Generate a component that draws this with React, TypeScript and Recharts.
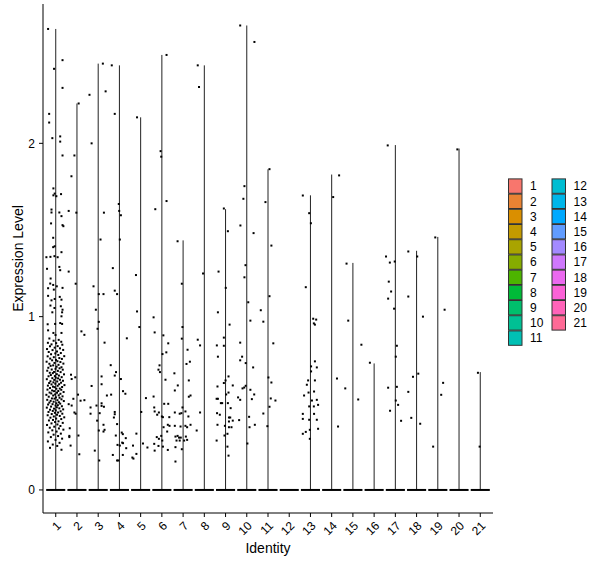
import React from "react";
import { ComposedChart, XAxis, YAxis, Scatter, ReferenceLine } from "recharts";

const clusters = ["1", "2", "3", "4", "5", "6", "7", "8", "9", "10", "11", "12", "13", "14", "15", "16", "17", "18", "19", "20", "21"];

const clusterColors = [
  "#F8766D", "#EA8333", "#DA8F00", "#C39A00", "#A9A400", "#86AC00", "#4DB400",
  "#00BA38", "#00BE6C", "#00C094", "#00C0B4", "#00BDD2", "#00B6EA", "#00A9FF",
  "#619CFF", "#A38AFF", "#CF78FD", "#EB69EF", "#FB62D7", "#FF63B9", "#FF6A96",
];

// top of each violin (max expression per cluster)
const violinMax = [2.66, 2.23, 2.46, 2.45, 2.15, 2.51, 1.44, 2.45, 1.62, 2.68, 1.85, 0, 1.7, 1.82, 1.31, 0.73, 1.99, 1.38, 1.46, 1.97, 0.68];

const yTicks = [0, 1, 2];

// non-zero cells: [jitter (in cluster widths), expression]
const cells1: [number, number][] = [
  [-0.36, 2.66], [0.32, 2.48], [-0.08, 2.43], [0.32, 2.32], [-0.31, 2.17], [-0.31, 2.12], [-0.16, 2.03], [0.21, 2.04], [0.21, 2.01], [0.32, 1.93],
  [-0.11, 1.74], [-0.11, 1.70], [-0.05, 1.71], [0.03, 1.695], [0.25, 1.707], [-0.2, 1.618], [-0.2, 1.601], [0.17, 1.601], [0.27, 1.58],
  [-0.22, 1.538], [0.32, 1.528], [0.36, 1.522], [-0.12, 1.455], [-0.12, 1.401], [-0.05, 1.406], [0.27, 1.372], [-0.44, 1.343], [-0.25, 1.345],
  [-0.06, 1.349], [0.09, 1.343], [-0.41, 1.276], [0.17, 1.287], [0.21, 1.268], [-0.24, 1.22], [-0.26, 1.191], [-0.12, 1.183], [-0.09, 1.156],
  [-0.36, 1.164], [0.05, 1.175], [0.32, 1.166], [-0.36, 1.12], [-0.2, 1.094], [-0.05, 1.102], [0.19, 1.114], [0.27, 1.098], [-0.25, 1.064],
  [-0.06, 1.05], [0.24, 1.06], [0.32, 1.04], [-0.16, 1.025], [0.3, 1.025], [0.27, 1.002], [-0.38, 0.956], [-0.03, 0.958], [0.21, 0.963],
  [0.3, 0.958], [-0.36, 0.921], [-0.11, 0.906], [-0.01, 0.894], [0.27, 0.906],
  [-0.3, 0.874], [0.14, 0.866], [-0.1, 0.861], [0.26, 0.855], [-0.37, 0.849], [0.02, 0.847], [-0.2, 0.84],
  [0.31, 0.838], [0.09, 0.83], [-0.27, 0.829], [-0.05, 0.821], [0.2, 0.817], [-0.41, 0.813], [0.35, 0.808], [-0.15, 0.807], [0.06, 0.799],
  [-0.33, 0.796], [0.24, 0.79], [-0.02, 0.788], [-0.22, 0.783], [0.12, 0.779], [0.4, 0.772], [-0.38, 0.771], [-0.09, 0.766], [0.17, 0.761],
  [-0.26, 0.758], [0.29, 0.756], [0.01, 0.75], [-0.17, 0.748], [0.08, 0.743], [-0.43, 0.74], [0.22, 0.738], [-0.06, 0.733], [0.36, 0.729],
  [-0.3, 0.728], [0.13, 0.722], [-0.12, 0.719], [-0.24, 0.716], [0.04, 0.711], [0.27, 0.708], [-0.35, 0.705], [0.18, 0.702],
  [-0.01, 0.699], [-0.19, 0.695], [0.33, 0.694], [-0.4, 0.688], [0.1, 0.687], [-0.08, 0.681], [0.23, 0.68], [-0.28, 0.676], [-0.14, 0.674],
  [0.05, 0.668], [0.39, 0.667], [-0.23, 0.663], [0.15, 0.66], [-0.04, 0.657], [-0.34, 0.656], [0.28, 0.651], [0.0, 0.648], [-0.16, 0.645],
  [0.11, 0.644], [-0.42, 0.639], [0.2, 0.636], [-0.07, 0.635], [0.34, 0.63], [-0.25, 0.627], [0.07, 0.626], [-0.11, 0.621], [0.25, 0.619],
  [-0.31, 0.617], [-0.02, 0.613], [0.16, 0.61], [-0.2, 0.609], [0.41, 0.605], [-0.37, 0.602], [0.09, 0.601], [-0.13, 0.596], [0.3, 0.594],
  [-0.05, 0.593], [-0.27, 0.588], [0.19, 0.585], [0.03, 0.584], [-0.39, 0.579], [0.26, 0.578], [-0.17, 0.574], [0.12, 0.571], [-0.08, 0.57],
  [0.37, 0.565], [-0.29, 0.562], [0.06, 0.561], [-0.21, 0.557], [0.22, 0.555], [-0.03, 0.551], [-0.44, 0.549], [0.14, 0.546], [-0.12, 0.545],
  [0.32, 0.54], [-0.33, 0.538], [0.01, 0.534], [0.18, 0.532], [-0.18, 0.528], [-0.06, 0.527], [0.27, 0.523], [-0.4, 0.52], [0.08, 0.518],
  [-0.24, 0.514], [0.38, 0.513], [-0.1, 0.509], [0.15, 0.506], [-0.3, 0.504], [0.03, 0.5], [0.21, 0.498], [-0.15, 0.495], [-0.36, 0.493],
  [0.1, 0.489], [-0.01, 0.487], [0.29, 0.483], [-0.22, 0.481], [0.05, 0.477], [-0.42, 0.475], [0.17, 0.471], [-0.08, 0.469], [0.35, 0.465],
  [-0.27, 0.463], [0.0, 0.459], [-0.14, 0.456], [0.23, 0.454], [-0.34, 0.45], [0.11, 0.447], [-0.04, 0.445], [0.31, 0.44], [-0.19, 0.438],
  [0.06, 0.434], [-0.38, 0.431], [0.19, 0.427], [-0.09, 0.424], [0.4, 0.419], [-0.25, 0.417], [0.02, 0.412], [0.26, 0.409], [-0.13, 0.404],
  [-0.32, 0.401], [0.13, 0.396], [-0.03, 0.392], [0.33, 0.387], [-0.2, 0.384], [0.08, 0.378], [-0.41, 0.375], [0.22, 0.369], [-0.07, 0.365],
  [-0.28, 0.359], [0.15, 0.355], [0.36, 0.348], [-0.16, 0.344], [0.04, 0.337], [-0.35, 0.332], [0.24, 0.325], [-0.1, 0.319], [0.11, 0.311],
  [-0.23, 0.305], [0.3, 0.296], [-0.01, 0.289], [-0.37, 0.28], [0.18, 0.272], [-0.14, 0.262], [0.07, 0.254], [-0.27, 0.243], [0.27, 0.232],
];
const cells2: [number, number][] = [
  [0.08, 2.23], [-0.12, 1.93], [-0.26, 1.81], [-0.39, 1.61], [-0.03, 1.6], [-0.39, 1.26], [-0.06, 1.19], [0.21, 0.915], [0.35, 0.895],
  [-0.08, 0.65], [-0.28, 0.665], [-0.25, 0.64], [0.05, 0.55], [-0.17, 0.526], [0.17, 0.515], [0.35, 0.518], [-0.39, 0.495], [-0.25, 0.487],
  [-0.12, 0.447], [-0.06, 0.44], [-0.34, 0.356], [-0.36, 0.312], [-0.36, 0.305], [0.07, 0.314], [-0.3, 0.256], [0.11, 0.206],
];
const cells3: [number, number][] = [
  [0.22, 2.46], [0.35, 2.3], [-0.41, 2.28], [-0.31, 2.0], [0.27, 1.6], [0.11, 1.445], [-0.22, 1.175], [0.03, 1.13], [0.25, 1.13], [-0.11, 1.04],
  [0.03, 0.97], [-0.03, 0.93], [0.3, 0.85], [0.16, 0.655], [0.16, 0.61], [-0.31, 0.6], [0.41, 0.545], [-0.08, 0.487], [0.16, 0.5], [0.16, 0.485],
  [0.27, 0.48], [-0.36, 0.476], [-0.36, 0.44], [0.07, 0.443], [-0.05, 0.4], [0.25, 0.376], [0.3, 0.347], [0.25, 0.337], [0.03, 0.343],
  [-0.16, 0.227], [0.05, 0.17],
];
const cells4: [number, number][] = [
  [-0.36, 2.45], [-0.22, 2.17], [-0.03, 1.65], [-0.01, 1.61], [0.07, 1.585], [0.02, 1.445], [-0.31, 1.28], [-0.22, 1.15], [-0.11, 1.13],
  [0.35, 0.875], [-0.41, 0.72], [-0.16, 0.68], [-0.22, 0.66], [0.07, 0.64], [0.17, 0.57], [0.28, 0.555], [-0.39, 0.55], [-0.22, 0.45],
  [-0.22, 0.437], [-0.26, 0.418], [-0.11, 0.38], [-0.17, 0.314], [0.11, 0.331], [0.16, 0.322], [0.3, 0.299], [-0.09, 0.26], [0.02, 0.256],
  [0.13, 0.273], [0.17, 0.27], [0.32, 0.241], [0.16, 0.202], [-0.31, 0.202], [-0.11, 0.17], [-0.05, 0.17],
];
const cells5: [number, number][] = [
  [-0.17, 2.15], [-0.22, 1.24], [-0.17, 1.03], [-0.06, 0.94], [0.25, 0.53], [0.03, 0.45], [-0.36, 0.256], [-0.39, 0.187], [-0.34, 0.181],
  [-0.2, 0.208], [-0.2, 0.325], [0.11, 0.268], [0.32, 0.245],
];
const cells6: [number, number][] = [
  [0.22, 2.51], [-0.06, 1.955], [-0.03, 1.923], [0.22, 1.667], [-0.31, 1.62], [-0.39, 0.996], [-0.34, 0.909], [0.07, 0.892], [0.3, 0.846],
  [0.03, 0.784], [0.21, 0.794], [-0.11, 0.719], [-0.16, 0.694], [-0.09, 0.68], [0.17, 0.636], [-0.39, 0.539], [-0.36, 0.476], [0.11, 0.497],
  [0.3, 0.497], [-0.34, 0.453], [-0.14, 0.447], [0.0, 0.424], [-0.22, 0.434], [0.05, 0.42], [0.35, 0.42], [0.36, 0.37], [0.08, 0.362],
  [0.28, 0.376], [0.25, 0.337], [-0.03, 0.312], [-0.24, 0.305], [-0.14, 0.295], [-0.36, 0.266], [0.02, 0.285], [-0.16, 0.254], [0.05, 0.25],
  [-0.34, 0.227], [0.28, 0.231],
];
const cells7: [number, number][] = [
  [-0.26, 1.435], [-0.06, 1.19], [-0.03, 0.94], [-0.06, 0.873], [0.21, 0.809], [0.16, 0.727], [0.32, 0.74], [-0.41, 0.673], [0.27, 0.632],
  [-0.25, 0.603], [-0.39, 0.574], [0.35, 0.545], [0.27, 0.538], [-0.03, 0.476], [0.11, 0.453], [-0.08, 0.443], [-0.16, 0.44], [-0.39, 0.447],
  [0.25, 0.424], [-0.39, 0.37], [-0.12, 0.366], [0.11, 0.37], [0.19, 0.362], [0.35, 0.376], [-0.36, 0.308], [-0.26, 0.312], [-0.19, 0.302],
  [-0.11, 0.302], [-0.31, 0.285], [-0.16, 0.285], [0.05, 0.285], [0.13, 0.308], [0.19, 0.289], [-0.36, 0.247], [-0.06, 0.235], [-0.36, 0.164],
];
const cells8: [number, number][] = [
  [-0.31, 2.45], [-0.25, 2.325], [-0.06, 1.249], [-0.31, 0.867], [-0.2, 0.834], [-0.2, 0.447], [-0.36, 0.343],
];
const cells9: [number, number][] = [
  [-0.08, 1.624], [0.11, 1.493], [-0.33, 1.26], [0.01, 1.166], [-0.36, 1.025], [0.19, 0.954], [-0.08, 0.879], [-0.41, 0.834], [-0.08, 0.832],
  [-0.36, 0.769], [0.14, 0.655], [0.0, 0.632], [-0.08, 0.617], [0.34, 0.603], [-0.38, 0.597], [0.14, 0.562], [0.03, 0.551], [-0.36, 0.526],
  [-0.22, 0.501], [-0.16, 0.501], [0.11, 0.501], [-0.42, 0.526], [0.24, 0.472], [-0.4, 0.443], [-0.27, 0.434], [0.16, 0.418], [0.22, 0.418],
  [0.34, 0.4], [0.16, 0.395], [-0.03, 0.37], [0.16, 0.362], [0.28, 0.362], [0.09, 0.324], [-0.38, 0.376], [-0.05, 0.314], [0.09, 0.25],
  [0.14, 0.198], [-0.42, 0.285],
];
const cells10: [number, number][] = [
  [-0.31, 2.68], [0.36, 2.585], [-0.11, 1.753], [-0.16, 1.68], [-0.3, 1.526], [0.32, 1.482], [-0.06, 1.297], [-0.11, 1.227], [0.07, 1.083],
  [0.17, 0.977], [-0.31, 0.85], [-0.22, 0.769], [-0.31, 0.748], [-0.05, 0.732], [0.3, 0.707], [-0.05, 0.601], [-0.12, 0.591], [-0.2, 0.586],
  [0.17, 0.578], [0.35, 0.551], [-0.41, 0.534], [-0.31, 0.52], [0.24, 0.524], [-0.36, 0.403], [0.11, 0.422], [0.13, 0.362], [0.38, 0.376],
  [0.03, 0.268],
];
const cells11: [number, number][] = [
  [0.07, 1.851], [-0.12, 1.661], [0.16, 1.41], [0.07, 1.118], [-0.34, 1.037], [-0.22, 0.971], [0.25, 0.846], [0.02, 0.649], [0.16, 0.62],
  [0.13, 0.528], [0.35, 0.516], [0.07, 0.48], [-0.22, 0.441], [-0.03, 0.368],
];
const cells12: [number, number][] = [];
const cells13: [number, number][] = [
  [-0.36, 1.699], [-0.06, 1.597], [0.02, 1.539], [-0.22, 1.17], [0.13, 0.988], [0.27, 0.983], [0.16, 0.961], [0.21, 0.954], [0.21, 0.742],
  [0.03, 0.713], [0.3, 0.707], [0.03, 0.684], [-0.11, 0.632], [0.21, 0.632], [-0.17, 0.607], [-0.09, 0.562], [0.17, 0.568], [-0.3, 0.545],
  [0.07, 0.516], [0.3, 0.52], [0.36, 0.491], [-0.06, 0.482], [0.16, 0.482], [-0.36, 0.439], [0.17, 0.439], [-0.36, 0.41], [-0.06, 0.405],
  [0.3, 0.405], [0.36, 0.353], [-0.03, 0.347], [-0.22, 0.335], [-0.36, 0.324], [-0.03, 0.295],
];
const cells14: [number, number][] = [[0.35, 1.815], [0.07, 1.69], [0.25, 0.643], [0.3, 0.366]];
const cells15: [number, number][] = [[-0.3, 1.306], [-0.22, 0.977], [0.4, 0.838], [-0.36, 0.586], [0.25, 0.522]];
const cells16: [number, number][] = [[-0.2, 0.734]];
const cells17: [number, number][] = [
  [-0.36, 1.988], [-0.44, 1.347], [-0.26, 1.312], [-0.03, 1.318], [-0.31, 1.202], [-0.2, 1.145], [-0.34, 1.104], [-0.06, 1.046], [0.07, 0.832],
  [0.02, 0.769], [-0.34, 0.59], [0.07, 0.595], [0.02, 0.516], [0.13, 0.491], [-0.25, 0.457], [0.27, 0.399],
];
const cells18: [number, number][] = [
  [-0.39, 1.376], [0.03, 1.347], [-0.39, 1.116], [0.3, 1.0], [0.08, 0.671], [-0.17, 0.653], [-0.39, 0.566], [-0.25, 0.416], [0.17, 0.382],
];
const cells19: [number, number][] = [[-0.12, 1.457], [0.32, 1.04], [0.25, 0.618], [0.16, 0.549], [-0.22, 0.25]];
const cells20: [number, number][] = [[-0.08, 1.965]];
const cells21: [number, number][] = [[-0.11, 0.676], [-0.03, 0.25]];

const cellsByCluster = [
  cells1, cells2, cells3, cells4, cells5, cells6, cells7, cells8, cells9, cells10, cells11,
  cells12, cells13, cells14, cells15, cells16, cells17, cells18, cells19, cells20, cells21,
];

const FONT = "'Liberation Sans', Arial, sans-serif";

const points = cellsByCluster.flatMap((cells, i) =>
  cells.map(([jit, v]) => ({ x: i + 1 + jit, y: v }))
);

const Dot = (p: any) => <rect x={p.cx - 1} y={p.cy - 1} width={2} height={2} fill="#000" />;

const XTick = ({ x, y, payload }: any) => (
  <text
    x={x}
    y={y}
    dy="0.71em"
    transform={`rotate(-45 ${x} ${y})`}
    textAnchor="end"
    fontSize={12}
    fontFamily={FONT}
    fill="#000"
  >
    {clusters[payload.value - 1]}
  </text>
);

export default function App() {
  return (
    <div style={{ position: "relative", width: 600, height: 568, background: "#fff", fontFamily: FONT }}>
      <style>{"body{margin:0}"}</style>
      <ComposedChart width={600} height={568} margin={{ top: 4, right: 107, bottom: 0, left: 0 }}>
        <XAxis
          type="number"
          dataKey="x"
          domain={[0.4, 21.6]}
          ticks={clusters.map((_, i) => i + 1)}
          interval={0}
          allowDataOverflow
          height={55}
          tickSize={4}
          tickMargin={3.5}
          axisLine={{ stroke: "#000" }}
          tickLine={{ stroke: "#000" }}
          tick={<XTick />}
        />
        <YAxis
          type="number"
          dataKey="y"
          domain={[-0.133, 2.804]}
          ticks={yTicks}
          allowDataOverflow
          width={43}
          tickSize={4}
          tickMargin={4}
          axisLine={{ stroke: "#000" }}
          tickLine={{ stroke: "#000" }}
          tick={{ fontSize: 12, fill: "#000", fontFamily: FONT }}
        />
        {violinMax.map((m, i) =>
          m > 0 ? (
            <ReferenceLine
              key={"v" + i}
              segment={[{ x: i + 1, y: 0 }, { x: i + 1, y: m }]}
              stroke="#222"
              strokeWidth={1}
            />
          ) : null
        )}
        {clusters.map((_, i) => (
          <ReferenceLine
            key={"b" + i}
            segment={[{ x: i + 1 - 0.45, y: 0 }, { x: i + 1 + 0.45, y: 0 }]}
            stroke="#000"
            strokeWidth={2}
          />
        ))}
        <Scatter data={points} shape={Dot} isAnimationActive={false} />
      </ComposedChart>
      <svg width={600} height={568} style={{ position: "absolute", left: 0, top: 0, pointerEvents: "none" }}>
        <text x={268} y={552.5} textAnchor="middle" fontSize={14} fontFamily={FONT} fill="#000">
          Identity
        </text>
        <text transform="translate(22.5 258.5) rotate(-90)" textAnchor="middle" fontSize={14} fontFamily={FONT} fill="#000">
          Expression Level
        </text>
        {clusters.map((c, i) => {
          const col = i < 11 ? 0 : 1;
          const row = i < 11 ? i : i - 11;
          const kx = col === 0 ? 508.5 : 552;
          const ky = 178.5 + row * 15.2;
          return (
            <g key={c}>
              <rect x={kx} y={ky + 0.4} width={13.5} height={14.4} fill={clusterColors[i]} stroke="#333" strokeWidth={1} />
              <text x={kx + 21.5} y={ky + 7.6} dy="0.35em" fontSize={12} fontFamily={FONT} fill="#000">
                {c}
              </text>
            </g>
          );
        })}
      </svg>
    </div>
  );
}
